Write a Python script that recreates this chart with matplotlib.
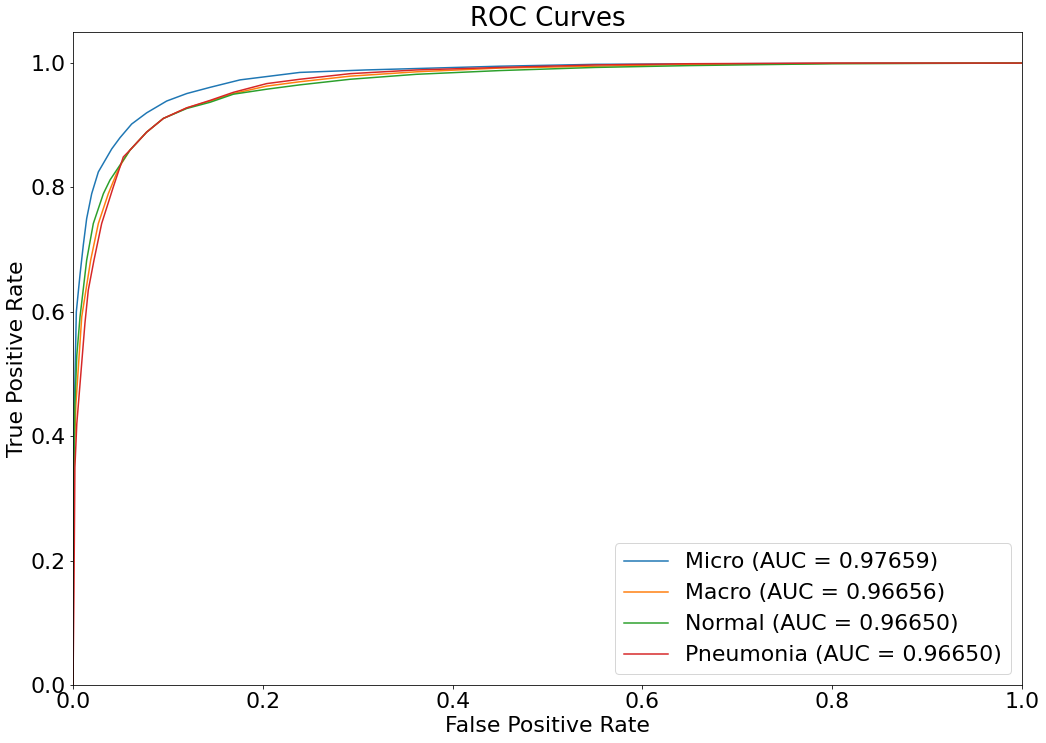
import matplotlib
matplotlib.use('Agg')
import matplotlib.pyplot as plt

# ROC curve points (FPR, TPR)
micro_fpr = [0, 0, 0.0005, 0.0015, 0.0035, 0.0074, 0.0109, 0.0144, 0.0197, 0.0267, 0.0408,
             0.0495, 0.0618, 0.0776, 0.0987, 0.1198, 0.1444, 0.176, 0.239, 0.309, 0.45,
             0.55, 0.7, 0.85, 1.0]
micro_tpr = [0, 0.15, 0.3, 0.45, 0.6, 0.66, 0.708, 0.75, 0.790, 0.825, 0.862,
             0.880, 0.902, 0.920, 0.939, 0.951, 0.961, 0.973, 0.985, 0.989, 0.995,
             0.998, 0.999, 1.0, 1.0]

macro_fpr = [0, 0.0003, 0.001, 0.003, 0.0092, 0.0186, 0.0267, 0.0372, 0.046, 0.0513, 0.060,
             0.0776, 0.0952, 0.1198, 0.1444, 0.169, 0.204, 0.239, 0.292, 0.362, 0.45,
             0.55, 0.65, 0.8, 1.0]
macro_tpr = [0, 0.2, 0.35, 0.45, 0.592, 0.683, 0.742, 0.790, 0.823, 0.839, 0.860,
             0.889, 0.911, 0.928, 0.939, 0.951, 0.963, 0.970, 0.979, 0.986, 0.992,
             0.995, 0.998, 0.9995, 1.0]

normal_fpr = [0, 0, 0.0005, 0.002, 0.004, 0.0074, 0.0144, 0.0214, 0.032, 0.039, 0.0495,
              0.060, 0.0776, 0.0952, 0.1198, 0.1444, 0.169, 0.204, 0.239, 0.292, 0.362,
              0.45, 0.55, 0.65, 0.8, 1.0]
normal_tpr = [0, 0.2, 0.3, 0.45, 0.53, 0.592, 0.683, 0.742, 0.790, 0.812, 0.836,
              0.860, 0.889, 0.911, 0.927, 0.937, 0.950, 0.958, 0.965, 0.974, 0.982,
              0.988, 0.993, 0.996, 0.999, 1.0]

pneu_fpr = [0, 0.001, 0.002, 0.004, 0.0126, 0.0161, 0.0221, 0.0302, 0.0425, 0.053, 0.060,
            0.0776, 0.0952, 0.1198, 0.1444, 0.169, 0.204, 0.239, 0.292, 0.362, 0.45,
            0.55, 0.65, 0.8, 1.0]
pneu_tpr = [0, 0.15, 0.35, 0.42, 0.582, 0.635, 0.683, 0.742, 0.801, 0.849, 0.860,
            0.889, 0.911, 0.928, 0.940, 0.953, 0.967, 0.974, 0.983, 0.989, 0.993,
            0.997, 0.999, 1.0, 1.0]

labels = ['Micro (AUC = 0.97659)', 'Macro (AUC = 0.96656)',
          'Normal (AUC = 0.96650)', 'Pneumonia (AUC = 0.96650)']

fig = plt.figure(figsize=(1046 / 72, 743 / 72), dpi=72)
ax = fig.add_axes([73 / 1046, 1 - 685 / 743, (1022 - 73) / 1046, (685 - 32) / 743])

ax.plot(micro_fpr, micro_tpr, color='#1f77b4', lw=1.5, label=labels[0])
ax.plot(macro_fpr, macro_tpr, color='#ff7f0e', lw=1.5, label=labels[1])
ax.plot(normal_fpr, normal_tpr, color='#2ca02c', lw=1.5, label=labels[2])
ax.plot(pneu_fpr, pneu_tpr, color='#d62728', lw=1.5, label=labels[3])

ax.set_xlim(0, 1.0)
ax.set_ylim(0, 1.05)
ax.set_title('ROC Curves', fontsize=26)
ax.set_xlabel('False Positive Rate', fontsize=22)
ax.set_ylabel('True Positive Rate', fontsize=22)
ax.tick_params(labelsize=22)
ax.legend(loc='lower right', fontsize=22)

fig.savefig('out.png', dpi=72, facecolor='white')
